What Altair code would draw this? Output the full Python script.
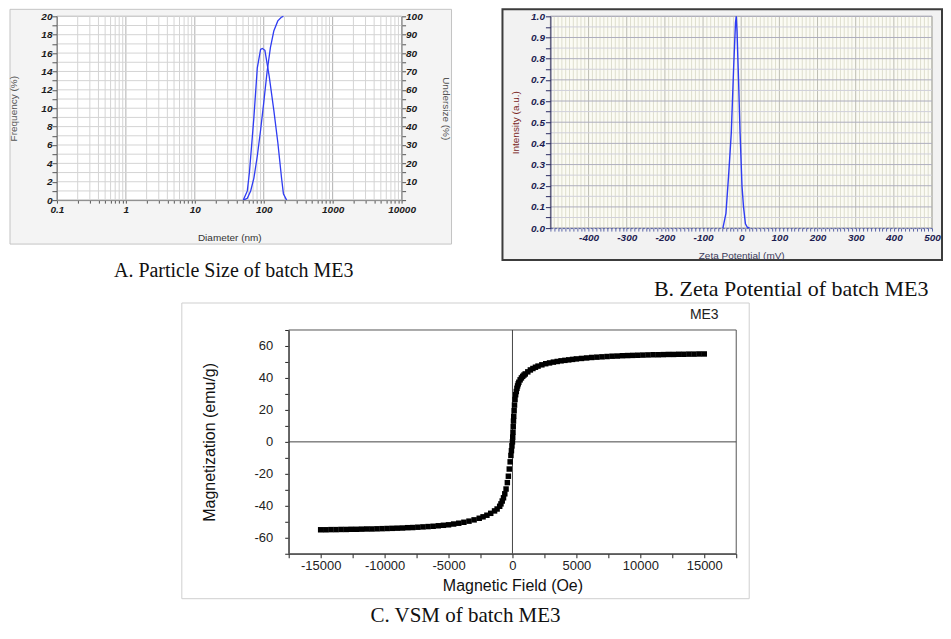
import altair as alt
import pandas as pd

# ---------------- A. Particle size (log diameter) ----------------
size_freq_d = [50.5, 57.8, 62.0, 72.0, 80.7, 90.0, 95.5, 104.0, 120.0, 140.0, 160.0, 182.0, 193.0, 215.0]
size_freq_v = [0.0, 1.0, 3.0, 9.0, 14.4, 16.4, 16.5, 16.3, 13.5, 9.8, 6.3, 2.3, 0.7, 0.0]
size_und_d = [50.5, 57.8, 64.6, 72.0, 80.7, 90.0, 100.0, 112.0, 125.0, 140.0, 160.0, 180.0, 193.0]
size_und_v = [0.0, 1.0, 5.0, 12.0, 24.0, 38.0, 53.0, 70.0, 83.0, 92.0, 97.5, 99.5, 100.0]
size_decades = [0.1, 1, 10, 100, 1000, 10000]
size_mantissas = [1, 2, 3, 4, 5, 6, 7, 8, 9]
freq_ticks = list(range(0, 21))
und_ticks = list(range(0, 101, 5))

# ---------------- B. Zeta potential ----------------
zeta_mv = [-48, -40, -33, -26, -20, -15, -13, -11, -7, -3, 2, 6, 11, 16, 22]
zeta_int = [0.0, 0.07, 0.25, 0.45, 0.75, 0.97, 1.0, 0.93, 0.70, 0.45, 0.20, 0.10, 0.02, 0.004, 0.0]
zeta_xticks = list(range(-500, 501, 10))
zeta_yticks = [round(i * 0.05, 2) for i in range(21)]

# ---------------- C. VSM ----------------
vsm_h_pos = [0, 20, 40, 60, 80, 100, 130, 160, 200, 250, 300, 350, 400, 450, 500,
             600, 700, 800, 900, 1000, 1200, 1400, 1600, 1800, 2000,
             2300, 2600, 2900, 3200, 3500, 3800, 4100, 4400, 4700,
             5000, 5400, 5800, 6200, 6600, 7000, 7400, 7800, 8200, 8600, 9000, 9400, 9800,
             10200, 10600, 11000, 11400, 11800, 12200, 12600, 13000, 13400, 13800, 14200, 14600, 15000]
vsm_m_pos = [0, 3, 6, 9.5, 13, 16, 19.5, 23, 26.5, 29.5, 31.5, 33.5, 35, 36.3, 37.3,
             38.8, 40, 41, 41.8, 42.5, 43.8, 45, 45.9, 46.7, 47.4,
             48.2, 48.9, 49.4, 49.9, 50.3, 50.7, 51.0, 51.3, 51.6,
             51.9, 52.2, 52.5, 52.8, 53.0, 53.2, 53.4, 53.6, 53.7, 53.9, 54.0, 54.1, 54.2,
             54.3, 54.4, 54.5, 54.5, 54.6, 54.7, 54.7, 54.8, 54.8, 54.9, 54.9, 55.0, 55.0]
vsm_h_neg = [-15000, -14600, -14200, -13800, -13400, -13000, -12600, -12200, -11800, -11400,
             -11000, -10600, -10200, -9800, -9400, -9000, -8600, -8200, -7800, -7400,
             -7000, -6600, -6200, -5800, -5400, -5000,
             -4600, -4200, -3800, -3400, -3000, -2600, -2300, -2000, -1700, -1400, -1200, -1000,
             -900, -800, -700, -600, -500, -400, -320, -250, -180, -120, -80, -40]
vsm_m_neg = [-55.0, -55.0, -54.9, -54.9, -54.8, -54.8, -54.7, -54.7, -54.6, -54.5,
             -54.5, -54.4, -54.3, -54.2, -54.1, -54.0, -53.9, -53.7, -53.6, -53.4,
             -53.2, -53.0, -52.8, -52.5, -52.2, -51.9,
             -51.4, -50.9, -50.3, -49.6, -48.8, -47.8, -46.9, -45.9, -44.7, -43.2, -42.0, -40.3,
             -38.8, -37.0, -35.0, -32.5, -29.5, -25.5, -21.5, -17.0, -12.5, -8.5, -5.5, -2.5]
vsm_xticks = list(range(-17500, 17501, 2500))
vsm_yticks = list(range(-70, 71, 10))

BLUE = "#2f3cf2"
one = alt.Data(values=[{"k": 0}])


def box(x1, x2, y1, y2, **kw):
    return alt.Chart(one).mark_rect(**kw).encode(
        x=alt.value(x1), x2=alt.value(x2), y=alt.value(y1), y2=alt.value(y2))


def label(x, y, text, **kw):
    return alt.Chart(one).mark_text(text=text, **kw).encode(x=alt.value(x), y=alt.value(y))


CAP = dict(font="Liberation Serif", color="#111111", align="center", baseline="middle")

# ======================= Panel A =======================
WA, HA = 345, 184
a_ticks = sorted(round(m * d, 6) for d in size_decades[:-1] for m in size_mantissas) + [10000]
a_x = alt.Scale(type="log", domain=[0.1, 10000])
a_y = alt.Scale(domain=[0, 20])
a_u = alt.Scale(domain=[0, 100])
sty_a = dict(labelFont="Liberation Sans", labelFontSize=10, labelFontWeight="bold",
             labelFontStyle="italic", labelColor="#1a1a1a", titleFont="Liberation Sans",
             titleFontSize=10, titleFontWeight="normal", titleColor="#555555",
             domainColor="#8a8a8a", tickColor="#555555", grid=False, zindex=1,
             labelOverlap=False, labelFlush=False)
ax_a_x = alt.Axis(
    values=a_ticks, format="~g", title="Diameter (nm)",
    labelExpr="indexof([0.1, 1, 10, 100, 1000, 10000], datum.value) >= 0 ? datum.label : ''",
    tickSize=3, labelPadding=1, titlePadding=18,
    **{**sty_a, "titleColor": "#333333"})
ax_a_y = alt.Axis(
    values=freq_ticks, title="Frequency (%)",
    labelExpr="datum.value % 2 == 0 ? '' + datum.value : ''",
    tickSize=5, labelPadding=0, titlePadding=22, **sty_a)
ax_a_u = alt.Axis(
    orient="right", values=und_ticks, title="Undersize (%)",
    labelExpr="datum.value % 10 == 0 && datum.value > 0 ? '' + datum.value : ''",
    tickSize=4, labelPadding=0, titlePadding=18, **sty_a)

a_frame = box(-47, 395, -7, 228, fill="#f4f4f4", stroke="#c4c4c4", strokeWidth=1)
a_bg = box(0, WA, 0, HA, fill="white", stroke="#a0a0a0", strokeWidth=1)
a_vgrid = alt.Chart(pd.DataFrame({"d": a_ticks})).mark_rule(strokeWidth=1).encode(
    x=alt.X("d:Q", scale=a_x, axis=ax_a_x),
    color=alt.condition("indexof([0.1, 1, 10, 100, 1000, 10000], datum.d) >= 0",
                        alt.value("#b0b0b0"), alt.value("#d4d4d4")))
a_hgrid = alt.Chart(pd.DataFrame({"f": freq_ticks})).mark_rule(strokeWidth=1, color="#d4d4d4").encode(
    y=alt.Y("f:Q", scale=a_y, axis=None))
a_freq = alt.Chart(pd.DataFrame({"d": size_freq_d, "v": size_freq_v})).mark_line(
    color=BLUE, strokeWidth=1.3).encode(
    x=alt.X("d:Q", scale=a_x, axis=ax_a_x),
    y=alt.Y("v:Q", scale=a_y, axis=ax_a_y))
a_und = alt.Chart(pd.DataFrame({"d": size_und_d, "u": size_und_v})).mark_line(
    color=BLUE, strokeWidth=1.3).encode(
    x=alt.X("d:Q", scale=a_x, axis=ax_a_x),
    y=alt.Y("u:Q", scale=a_u, axis=ax_a_u))
a_cap = label(177, 255, "A. Particle Size of batch ME3", fontSize=20, **CAP)

A = alt.layer(a_frame, a_bg, a_vgrid, a_hgrid, a_freq, a_und, a_cap).properties(
    width=WA, height=HA).resolve_scale(y="independent")

# ======================= Panel B =======================
WB, HB = 382, 212
b_x = alt.Scale(domain=[-500, 500])
b_y = alt.Scale(domain=[0, 1])
sty_b = dict(labelFont="Liberation Sans", labelFontSize=10, labelFontWeight="bold",
             labelFontStyle="italic", labelColor="#1c1c50", titleFont="Liberation Sans",
             titleFontSize=10, titleFontWeight="normal", grid=False, zindex=1,
             labelOverlap=False, labelFlush=False)
ax_b_x = alt.Axis(
    values=zeta_xticks, title="Zeta Potential (mV)",
    labelExpr="datum.value % 100 == 0 && datum.value > -500 ? '' + datum.value : ''",
    tickSize=3, labelPadding=1, titlePadding=8, tickColor="#5a64a8",
    domainColor="#5a64a8", domainDash=[2, 2], titleColor="#3a3a5a", **sty_b)
ax_b_y = alt.Axis(
    values=zeta_yticks, title="Intensity (a.u.)",
    labelExpr="round(datum.value * 100) % 10 == 0 ? format(datum.value, '.1f') : ''",
    tickSize=5, labelPadding=1, titlePadding=10, tickColor="#2a2a60",
    domainColor="#2a2a60", titleColor="#7a1f1f", **sty_b)

b_frame = box(-48, 392, -7, 244, fill="#f2f2f2", stroke="#3c3c3c", strokeWidth=2)
b_bg = box(0, WB, 0, HB, fill="#fbfbf4", stroke="#a0a0a0", strokeWidth=1)
b_vgrid = alt.Chart(pd.DataFrame({"x": zeta_xticks})).mark_rule(strokeWidth=1).encode(
    x=alt.X("x:Q", scale=b_x, axis=ax_b_x),
    color=alt.condition("datum.x % 100 == 0", alt.value("#bdbdb2"), alt.value("#dedecd")))
b_hgrid = alt.Chart(pd.DataFrame({"y": zeta_yticks})).mark_rule(strokeWidth=1).encode(
    y=alt.Y("y:Q", scale=b_y, axis=ax_b_y),
    color=alt.condition("round(datum.y * 100) % 10 == 0", alt.value("#aeaebe"), alt.value("#d0d0da")))
b_line = alt.Chart(pd.DataFrame({"mv": zeta_mv, "i": zeta_int})).mark_line(
    color=BLUE, strokeWidth=1.4).encode(
    x=alt.X("mv:Q", scale=b_x, axis=ax_b_x),
    y=alt.Y("i:Q", scale=b_y, axis=ax_b_y))
b_cap = label(241, 273, "B. Zeta Potential of batch ME3", fontSize=22, **CAP)

B = alt.layer(b_frame, b_bg, b_vgrid, b_hgrid, b_line, b_cap).properties(width=WB, height=HB)

# ======================= Panel C =======================
WC, HC = 448, 224
c_x = alt.Scale(domain=[-17500, 17500])
c_y = alt.Scale(domain=[-70, 70])
sty_c = dict(labelFont="Liberation Sans", labelFontSize=13, labelColor="#222222",
             titleFont="Liberation Sans", titleFontSize=16, titleFontWeight="normal",
             titleColor="#111111", domainColor="#222222", tickColor="#222222",
             grid=False, labelOverlap=False, labelFlush=False, tickSize=4)
ax_c_x = alt.Axis(
    values=vsm_xticks, title="Magnetic Field (Oe)",
    labelExpr="datum.value % 5000 == 0 ? '' + datum.value : ''",
    labelPadding=2, titlePadding=5, **sty_c)
ax_c_y = alt.Axis(
    values=vsm_yticks, title="Magnetization (emu/g)",
    labelExpr="datum.value % 20 == 0 ? '' + datum.value : ''",
    labelPadding=12, titlePadding=36, **sty_c)

c_frame = box(-107, 461, -27, HC + 45, filled=False, stroke="#cfcfcf", strokeWidth=1)
c_bg = box(0, WC, 0, HC, filled=False, stroke="#555555", strokeWidth=1)
c_zx = alt.Chart(pd.DataFrame({"h": [0]})).mark_rule(color="#444444", strokeWidth=1).encode(
    x=alt.X("h:Q", scale=c_x, axis=ax_c_x))
c_zy = alt.Chart(pd.DataFrame({"m": [0]})).mark_rule(color="#444444", strokeWidth=1).encode(
    y=alt.Y("m:Q", scale=c_y, axis=ax_c_y))
vsm = pd.DataFrame({"h": vsm_h_neg + vsm_h_pos, "m": vsm_m_neg + vsm_m_pos})
c_pts = alt.Chart(vsm).mark_square(size=30, color="black", opacity=1).encode(
    x=alt.X("h:Q", scale=c_x, axis=ax_c_x),
    y=alt.Y("m:Q", scale=c_y, axis=ax_c_y))
c_tag = label(416, -15, "ME3", font="Liberation Sans", fontSize=14, color="#222222",
              align="center", baseline="middle")
c_cap = label(177, HC + 62, "C. VSM of batch ME3", fontSize=21, **CAP)

C = alt.layer(c_frame, c_bg, c_zx, c_zy, c_pts, c_tag, c_cap).properties(width=WC, height=HC)

# invisible spacer that shifts panel C to the right inside the bottom row
spacer = box(0, 124, 0, 1, fill="white", opacity=0).properties(width=124, height=1)

chart = alt.vconcat(
    alt.hconcat(A, B, spacing=49),
    alt.hconcat(spacer, C, spacing=0),
    spacing=2,
).properties(
    padding={"left": 0, "top": 0, "right": 0, "bottom": 0}
).configure(
    font="Liberation Sans", background="white"
).configure_view(stroke="transparent", strokeWidth=0)

chart.save("out.html", embed_options={"renderer": "svg", "actions": False})
